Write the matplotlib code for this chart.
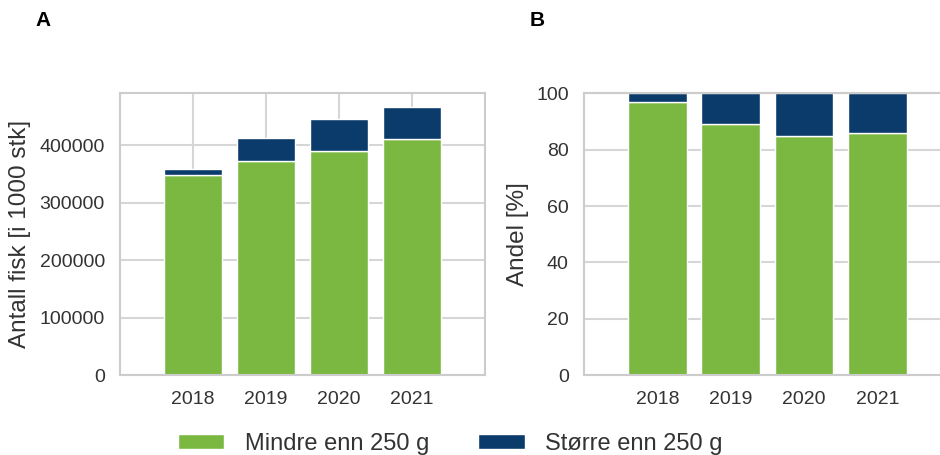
import matplotlib
matplotlib.use("Agg")
import matplotlib.pyplot as plt
import seaborn as sns

years = [2018, 2019, 2020, 2021]

# antall fisk (i 1000 stk)
antall_small = [348000, 371500, 389000, 410000]
antall_large = [11000, 40500, 56000, 57000]

# andel (%)
andel_small = [97, 89, 85, 86]
andel_large = [3, 11, 15, 14]

labels = ["Mindre enn 250 g", "Større enn 250 g"]
colors = ["#7bb841", "#0b3b6b"]

sns.set_theme(style="whitegrid")
plt.rcParams["font.family"] = ["Liberation Sans", "DejaVu Sans"]

fig = plt.figure(figsize=(9.4, 4.55), dpi=100)
ax_a = fig.add_axes([0.1277, 0.1752, 0.3883, 0.6198])
ax_b = fig.add_axes([0.6213, 0.1752, 0.39, 0.6198])


def stacked(ax, small, large):
    ax.bar(years, small, width=0.8, color=colors[0], edgecolor="white",
           linewidth=1, label=labels[0], zorder=2)
    ax.bar(years, large, bottom=small, width=0.8, color=colors[1],
           edgecolor="white", linewidth=1, label=labels[1], zorder=2)
    ax.set_xlim(2017, 2022)
    ax.set_xticks(years)
    ax.tick_params(axis="both", labelsize=14, pad=11, colors="#333333",
                   length=0)
    ax.grid(True, color="#d6d6d6", linewidth=1.5)
    for sp in ax.spines.values():
        sp.set_color("#cccccc")
        sp.set_linewidth(1.5)


stacked(ax_a, antall_small, antall_large)
ax_a.set_ylim(0, 490000)
ax_a.set_yticks([0, 100000, 200000, 300000, 400000])
ax_a.set_ylabel("Antall fisk [i 1000 stk]", fontsize=17.5, color="#333333",
                labelpad=6)

stacked(ax_b, andel_small, andel_large)
ax_b.set_ylim(0, 100)
ax_b.set_yticks([0, 20, 40, 60, 80, 100])
ax_b.set_ylabel("Andel [%]", fontsize=17.5, color="#333333", labelpad=5)

fig.text(0.0457, 0.954, "A", fontsize=15, fontweight="bold", color="black",
         ha="center", va="center")
fig.text(0.571, 0.954, "B", fontsize=15, fontweight="bold", color="black",
         ha="center", va="center")

handles, names = ax_a.get_legend_handles_labels()
fig.legend(handles, names, loc="center", bbox_to_anchor=(0.479, 0.025),
           ncol=2, frameon=False, fontsize=17, handlelength=1.95,
           handleheight=0.58, handletextpad=0.85, columnspacing=2.1,
           labelcolor="#333333", borderpad=0)

fig.savefig("out.png", dpi=100)
